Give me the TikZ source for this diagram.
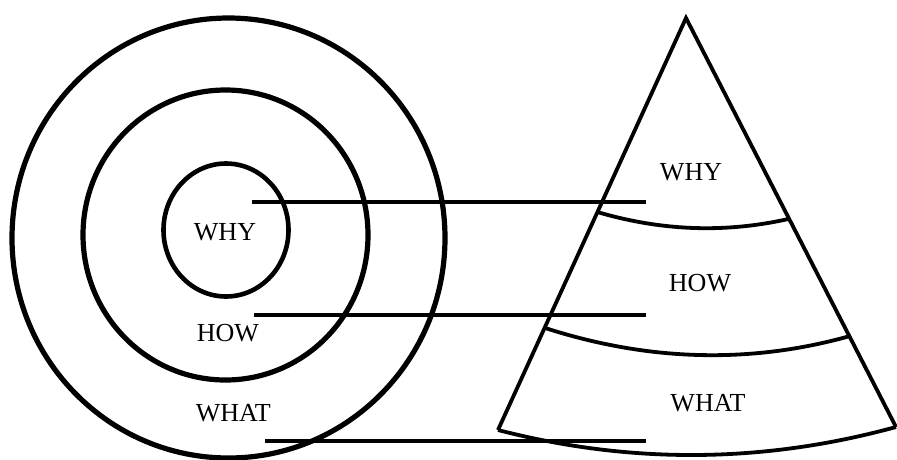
\documentclass[tikz,border=0pt]{standalone}
\usepackage{fontspec}
\setmainfont{Liberation Serif}
\usetikzlibrary{calc}
\begin{document}
\begin{tikzpicture}[x=1pt,y=-1pt,
  ring/.style={draw=black, line width=5.2pt},
  innerring/.style={draw=black, line width=4.6pt},
  edge/.style={draw=black, line width=3.8pt, line join=miter},
  link/.style={draw=black, line width=4pt},
  lbl/.style={font=\fontsize{26}{30}\selectfont, inner sep=0pt, anchor=base, text=black}]
\useasboundingbox (0,0) rectangle (897,459);
% circles
\draw[ring] (228.5,238) ellipse [x radius=216.5pt, y radius=220pt];
\draw[ring] (225.5,235) ellipse [x radius=142.5pt, y radius=145pt];
\draw[innerring] (226,230) ellipse [x radius=62.5pt, y radius=66.5pt];
% circle labels
\node[lbl] (cwhy) at (225,240.7) {WHY};
\node[lbl] (chow) at (228,341.7) {HOW};
\node[lbl] (cwhat) at (233.3,421.7) {WHAT};
% triangle
\coordinate (apex) at (686,18);
\coordinate (bl) at (498,430);
\coordinate (br) at (896,427);
\coordinate (a1l) at ($(apex)!0.471!(bl)$);
\coordinate (a1r) at ($(apex)!0.491!(br)$);
\coordinate (a2l) at ($(apex)!0.752!(bl)$);
\coordinate (a2r) at ($(apex)!0.778!(br)$);
\draw[edge] (bl) -- (apex) -- (br);
\draw[edge] (a1l) .. controls (662,231) and (725,233.3) .. (a1r);
\draw[edge] (a2l) .. controls (648,361.3) and (750,364) .. (a2r);
\draw[edge] (bl) .. controls (630.7,464.3) and (763.3,463.3) .. (br);
% triangle labels
\node[lbl] (twhy) at (691,180) {WHY};
\node[lbl] (thow) at (700,291.7) {HOW};
\node[lbl] (twhat) at (708,411.7) {WHAT};
% connectors
\coordinate (s1) at (252,201.7);
\coordinate (e1) at (646,201.7);
\coordinate (s2) at (254,315);
\coordinate (e2) at (646,315);
\coordinate (s3) at (265,440.7);
\coordinate (e3) at (646,440.7);
\draw[link] (s1) -- (e1);
\draw[link] (s2) -- (e2);
\draw[link] (s3) -- (e3);
\end{tikzpicture}
\end{document}
